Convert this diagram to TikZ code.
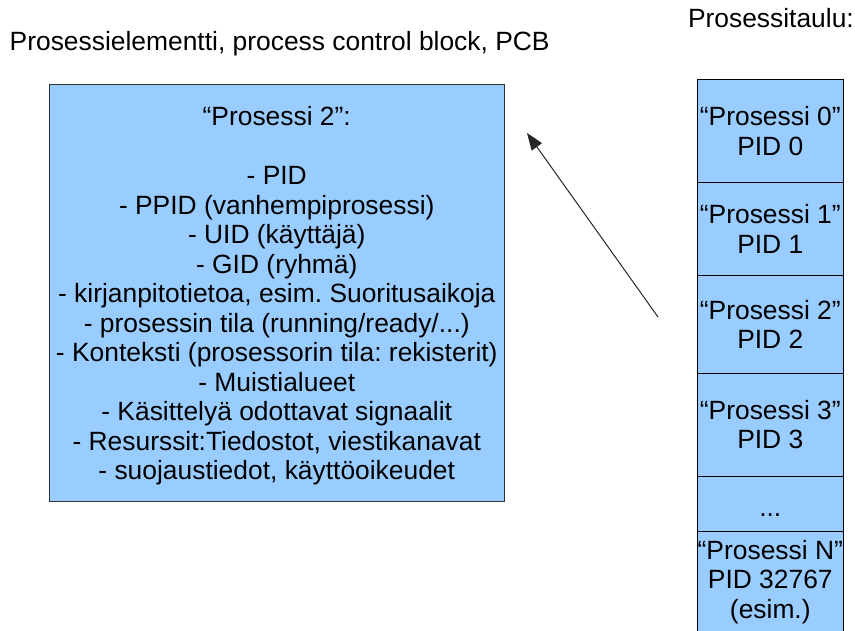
\documentclass[tikz,border=0pt]{standalone}
\usepackage{fontspec}
\setmainfont{Liberation Sans}
\usetikzlibrary{arrows.meta}
\definecolor{cellblue}{HTML}{99CCFF}
\definecolor{edgegray}{HTML}{333333}
\frenchspacing
\begin{document}
\begin{tikzpicture}[x=1pt,y=-1pt,
  every node/.style={font=\fontsize{26.4}{29.5}\selectfont, inner sep=0pt, outer sep=0pt},
  heading/.style={anchor=base west},
  pcbbox/.style={draw=edgegray, line width=1pt, fill=cellblue,
                 minimum width=454.5pt, minimum height=417pt},
  entry/.style={align=center},
  cell/.style={draw=black, line width=1pt, fill=cellblue,
               minimum width=146pt, align=center},
  link/.style={draw=black!85, line width=1pt,
               -{Triangle[length=17pt,width=12.5pt]}}]

\useasboundingbox (0,0) rectangle (855,630);

% headings
\node[heading] (pcbtitle) at (9.7,50) {Prosessielementti, process control block, PCB};
\node[heading] (tabletitle) at (688,27.5) {Prosessitaulu:};

% process control block
\node[pcbbox] (pcb) at (276.75,293.2) {};
\node[entry] (pcbtext) at (276.75,296) {%
“Prosessi 2”:\\[29.5pt]
- PID\\
- PPID (vanhempiprosessi)\\
- UID (käyttäjä)\\
- GID (ryhmä)\\
- kirjanpitotietoa, esim. Suoritusaikoja\\
- prosessin tila (running/ready/...)\\
- Konteksti (prosessorin tila: rekisterit)\\
- Muistialueet\\
- Käsittelyä odottavat signaalit\\
- Resurssit:Tiedostot, viestikanavat\\
- suojaustiedot, käyttöoikeudet};

% process table
\node[cell, minimum height=103.4pt] (p0) at (770.3,131)    {“Prosessi 0”\\PID 0};
\node[cell, minimum height=92.8pt]  (p1) at (770.3,229.1)  {“Prosessi 1”\\PID 1};
\node[cell, minimum height=97.5pt]  (p2) at (770.3,324.25) {“Prosessi 2”\\PID 2};
\node[cell, minimum height=103pt]   (p3) at (770.3,424.5)  {“Prosessi 3”\\PID 3};
\node[cell, minimum height=55.7pt]  (pdots) at (770.3,503.85) {\rule{0pt}{26pt}...};
\node[cell, minimum height=100.3pt] (pn) at (770.3,581.85) {“Prosessi N”\\PID 32767\\(esim.)};

% pointer from the table entry to its control block
\coordinate (tail) at (658,317);
\coordinate (tip) at (527,133);
\draw[link] (tail) -- (tip);

\end{tikzpicture}
\end{document}
